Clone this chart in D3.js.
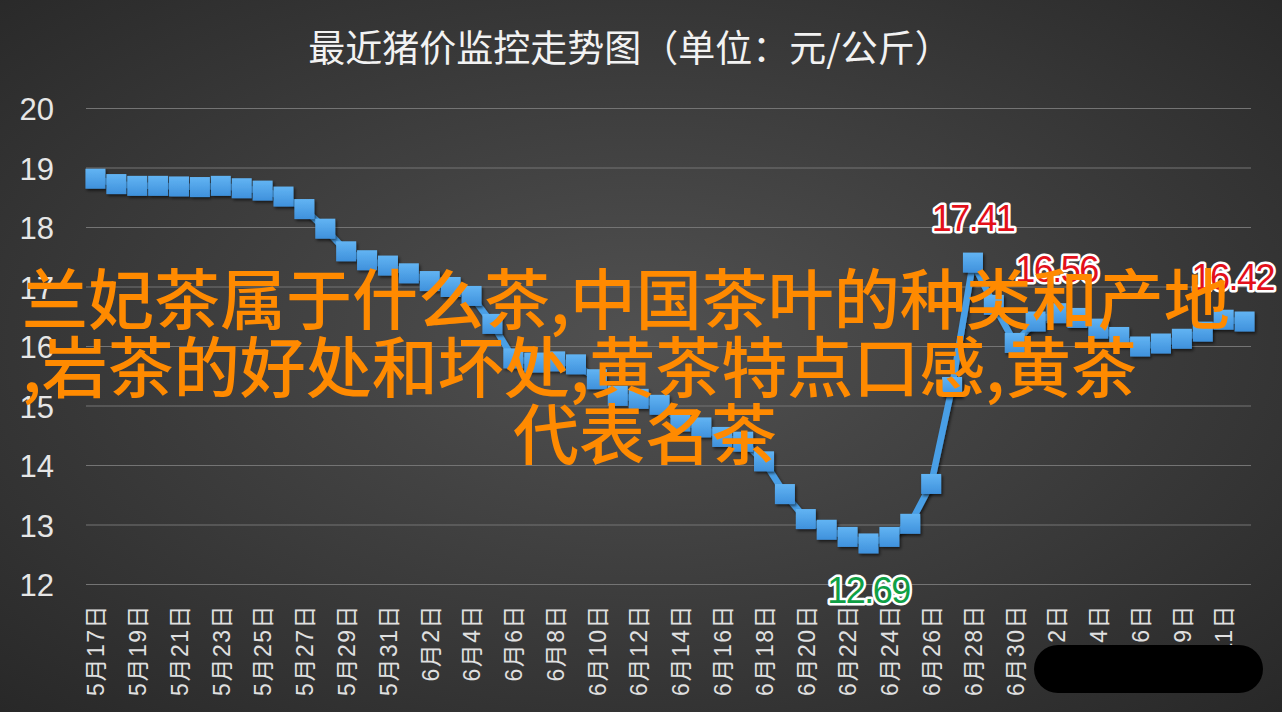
<!DOCTYPE html>
<html><head><meta charset="utf-8">
<script src="https://cdn.jsdelivr.net/npm/d3@7/dist/d3.min.js"></script>
<style>html,body{margin:0;padding:0;background:#333;overflow:hidden}svg{display:block}</style>
</head><body><svg id="c" width="1282" height="712"></svg>
<script>
// ---- data ----
const categories = [
  "5月17日","5月18日","5月19日","5月20日","5月21日","5月22日","5月23日","5月24日","5月25日","5月26日",
  "5月27日","5月28日","5月29日","5月30日","5月31日",
  "6月1日","6月2日","6月3日","6月4日","6月5日","6月6日","6月7日","6月8日","6月9日","6月10日",
  "6月11日","6月12日","6月13日","6月14日","6月15日","6月16日","6月17日","6月18日","6月19日","6月20日",
  "6月21日","6月22日","6月23日","6月24日","6月25日","6月26日","6月27日","6月28日","6月29日","6月30日",
  "7月1日","7月2日","7月3日","7月4日","7月5日","7月6日","7月8日","7月9日","7月10日","7月11日","7月12日"
];
const prices = [
  18.82,18.73,18.70,18.70,18.69,18.68,18.70,18.66,18.62,18.52,
  18.31,17.98,17.60,17.45,17.36,
  17.23,17.10,17.00,16.85,16.38,15.80,15.73,15.75,15.70,15.45,
  15.17,15.12,15.02,14.74,14.64,14.48,14.40,14.07,13.52,13.10,
  12.92,12.80,12.69,12.80,13.02,13.69,15.32,17.41,16.70,16.06,
  16.42,16.56,16.48,16.30,16.16,16.00,16.05,16.13,16.25,16.45,16.42
];
const yTicks = [12,13,14,15,16,17,18,19,20];
const redLabelDates = ["6月28日","7月2日","7月12日"];
const titleText = "最近猪价监控走势图（单位：元/公斤）";
const overlayLines = ["兰妃茶属于什么茶,中国茶叶的种类和产地", ",岩茶的好处和坏处,黄茶特点口感,黄茶", "代表名茶"];

// ---- layout ----
const W = 1282, H = 712;
const plot = {left: 86, right: 1251, top: 108.5, bottom: 584.5};
const svg = d3.select('#c');
const defs = svg.append('defs');

const bg = defs.append('radialGradient').attr('id','bg').attr('cx','50%').attr('cy','48%').attr('r','72%');
bg.append('stop').attr('offset','0%').attr('stop-color','#515151');
bg.append('stop').attr('offset','100%').attr('stop-color','#282828');
svg.append('rect').attr('width',W).attr('height',H).attr('fill','url(#bg)');

const mg = defs.append('linearGradient').attr('id','mk').attr('x1',0).attr('y1',0).attr('x2',0).attr('y2',1);
mg.append('stop').attr('offset','0%').attr('stop-color','#62b4f3');
mg.append('stop').attr('offset','100%').attr('stop-color','#3f91dc');

const sh = defs.append('filter').attr('id','sh').attr('x','-30%').attr('y','-30%').attr('width','160%').attr('height','160%');
sh.append('feDropShadow').attr('dx',1.5).attr('dy',2).attr('stdDeviation',1.5).attr('flood-color','#000').attr('flood-opacity',0.6);

const x = d3.scalePoint().domain(categories).range([85, 1255]).padding(0.5);
const y = d3.scaleLinear().domain([12,20]).range([plot.bottom, plot.top]);

// title
svg.append('text').attr('x',630).attr('y',46).attr('text-anchor','middle').attr('dominant-baseline','central')
  .attr('font-family','"Noto Sans CJK SC", sans-serif').attr('font-size',37).attr('fill','#f2f2f2')
  .text(titleText);

// gridlines
svg.append('g').selectAll('line').data(yTicks).join('line')
  .attr('x1',plot.left).attr('x2',plot.right)
  .attr('y1',d=>y(d)).attr('y2',d=>y(d))
  .attr('stroke','#747474').attr('stroke-width',1);

// y axis
const gy = svg.append('g').attr('transform','translate(54,0)')
  .call(d3.axisLeft(y).tickValues(yTicks).tickSize(0).tickPadding(0).tickFormat(d3.format('d')));
gy.select('.domain').remove();
gy.selectAll('text').attr('font-family','"Liberation Sans", Arial, sans-serif').attr('font-size',31)
  .attr('fill','#e6e6e6').attr('dy','0.36em');

// x axis
const gx = svg.append('g').attr('transform','translate(0,604)')
  .call(d3.axisBottom(x).tickValues(categories.filter((d,i)=>i%2===0)).tickSize(0).tickPadding(0));
gx.select('.domain').remove();
gx.selectAll('text').attr('transform','rotate(-90)').attr('x',0).attr('y',0).attr('dy','0.36em')
  .attr('text-anchor','end')
  .attr('font-family','"Liberation Sans", "Noto Sans CJK SC", sans-serif').attr('font-size',23)
  .attr('letter-spacing',1.5)
  .attr('fill','#e0e0e0');

// line
const pts = categories.map((c,i)=>({c, v: prices[i]}));
svg.append('path').datum(pts)
  .attr('d', d3.line().x(d=>x(d.c)).y(d=>y(d.v)))
  .attr('fill','none').attr('stroke','#4a9fe6').attr('stroke-width',6.5).attr('stroke-linejoin','round')
  .attr('filter','url(#sh)');

// markers
const ms = 20;
svg.append('g').selectAll('rect').data(pts).join('rect')
  .attr('x',d=>x(d.c)-ms/2).attr('y',d=>y(d.v)-ms/2).attr('width',ms).attr('height',ms)
  .attr('fill','url(#mk)').attr('filter','url(#sh)');

// data labels
function label(d, color, above){
  const t = svg.append('text')
    .attr('y', y(d.v) + (above ? -44 : 47))
    .attr('dominant-baseline','central').attr('text-anchor','middle')
    .attr('font-family','"Liberation Sans", Arial, sans-serif').attr('font-size',36)
    .attr('letter-spacing',-1.5)
    .attr('fill',color).attr('stroke','#ffffff').attr('stroke-width',5).attr('stroke-linejoin','round')
    .attr('paint-order','stroke')
    .text(d3.format('.2f')(d.v));
  const w = t.node().getComputedTextLength();
  const cx = Math.min(x(d.c), W - 8 - w/2);
  t.attr('x', cx);
}
pts.filter(d=>redLabelDates.includes(d.c)).forEach(d=>label(d,'#e3101a',true));
label(pts[d3.minIndex(prices)], '#0fa045', false);

// orange overlay text
const ov = svg.append('g').attr('font-family','"Noto Sans CJK SC", sans-serif').attr('font-size',66)
  .attr('font-weight',500).attr('fill','#ff8a00');
ov.append('text').attr('x',22).attr('y',295).attr('dominant-baseline','central').text(overlayLines[0]);
ov.append('text').attr('x',22).attr('y',363).attr('dominant-baseline','central').text(overlayLines[1]);
ov.append('text').attr('x',645).attr('y',430).attr('text-anchor','middle').attr('dominant-baseline','central').text(overlayLines[2]);

// black cover block
svg.append('rect').attr('x',1034).attr('y',645).attr('width',229).attr('height',48).attr('rx',24).attr('fill','#000');
</script>
</body></html>
